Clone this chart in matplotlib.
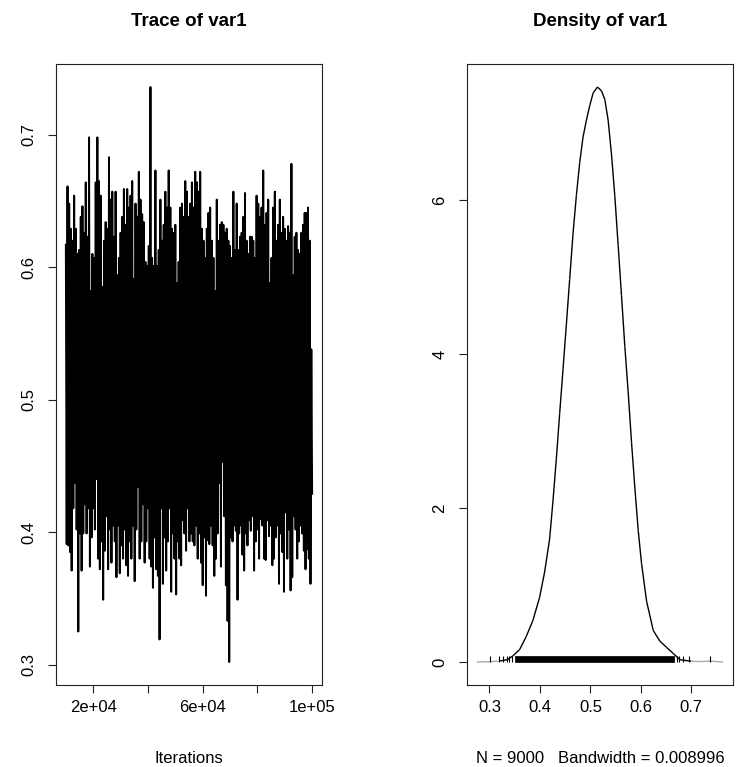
import numpy as np
import matplotlib
matplotlib.use("Agg")
import matplotlib.pyplot as plt
from matplotlib.collections import LineCollection

plt.rcParams['font.family'] = ['Liberation Sans', 'DejaVu Sans']

# trace: upper and lower reach of the chain, read column by column
trace_top = [0.617, 0.661, 0.648, 0.629, 0.620, 0.654, 0.629, 0.610, 0.613, 0.638,
             0.646, 0.626, 0.664, 0.623, 0.698, 0.582, 0.610, 0.607, 0.664, 0.698,
             0.665, 0.654, 0.585, 0.620, 0.634, 0.629, 0.683, 0.651, 0.657, 0.623,
             0.657, 0.594, 0.607, 0.626, 0.638, 0.659, 0.632, 0.659, 0.645, 0.654,
             0.665, 0.591, 0.648, 0.638, 0.672, 0.651, 0.640, 0.634, 0.604, 0.601,
             0.616, 0.736, 0.607, 0.601, 0.673, 0.601, 0.613, 0.651, 0.620, 0.632,
             0.657, 0.645, 0.673, 0.645, 0.629, 0.626, 0.632, 0.588, 0.604, 0.645,
             0.648, 0.638, 0.665, 0.657, 0.638, 0.648, 0.664, 0.645, 0.672, 0.664,
             0.657, 0.672, 0.629, 0.620, 0.607, 0.629, 0.641, 0.645, 0.620, 0.607,
             0.582, 0.651, 0.620, 0.632, 0.634, 0.632, 0.626, 0.629, 0.620, 0.616,
             0.607, 0.657, 0.613, 0.648, 0.613, 0.623, 0.626, 0.638, 0.656, 0.620,
             0.610, 0.623, 0.623, 0.620, 0.607, 0.654, 0.648, 0.638, 0.645, 0.673,
             0.632, 0.641, 0.651, 0.588, 0.607, 0.645, 0.657, 0.620, 0.632, 0.651,
             0.626, 0.638, 0.629, 0.620, 0.631, 0.626, 0.678, 0.594, 0.623, 0.626,
             0.613, 0.610, 0.626, 0.632, 0.641, 0.641, 0.645, 0.620, 0.538]
trace_bottom = [0.391, 0.390, 0.385, 0.371, 0.418, 0.437, 0.402, 0.325, 0.399, 0.371,
                0.399, 0.421, 0.399, 0.418, 0.374, 0.396, 0.418, 0.402, 0.440, 0.380,
                0.372, 0.393, 0.349, 0.386, 0.412, 0.372, 0.402, 0.377, 0.405, 0.393,
                0.366, 0.405, 0.369, 0.390, 0.380, 0.402, 0.375, 0.367, 0.393, 0.380,
                0.405, 0.363, 0.402, 0.434, 0.380, 0.393, 0.421, 0.377, 0.393, 0.418,
                0.380, 0.374, 0.358, 0.396, 0.372, 0.367, 0.319, 0.418, 0.361, 0.396,
                0.371, 0.393, 0.418, 0.355, 0.399, 0.380, 0.353, 0.393, 0.380, 0.375,
                0.409, 0.399, 0.386, 0.418, 0.393, 0.399, 0.393, 0.390, 0.405, 0.380,
                0.399, 0.377, 0.360, 0.396, 0.352, 0.394, 0.391, 0.405, 0.390, 0.367,
                0.380, 0.399, 0.437, 0.374, 0.453, 0.412, 0.360, 0.333, 0.302, 0.396,
                0.393, 0.405, 0.401, 0.349, 0.399, 0.405, 0.383, 0.371, 0.399, 0.390,
                0.409, 0.401, 0.412, 0.371, 0.393, 0.402, 0.380, 0.410, 0.405, 0.380,
                0.379, 0.409, 0.397, 0.405, 0.375, 0.380, 0.396, 0.405, 0.361, 0.399,
                0.385, 0.355, 0.415, 0.380, 0.402, 0.356, 0.366, 0.412, 0.402, 0.380,
                0.393, 0.405, 0.399, 0.386, 0.372, 0.387, 0.380, 0.361, 0.429]
first_iter = 10010
last_iter = 100000

# density estimate
dens_x = [0.275, 0.300, 0.320, 0.335, 0.3464, 0.3596, 0.3728, 0.3861, 0.3993, 0.4093,
          0.4192, 0.4258, 0.4325, 0.4391, 0.4457, 0.4523, 0.4589, 0.4656, 0.4722, 0.4788,
          0.4854, 0.4921, 0.4987, 0.5053, 0.5139, 0.5219, 0.5285, 0.5351, 0.5417, 0.5483,
          0.5550, 0.5616, 0.5682, 0.5748, 0.5815, 0.5881, 0.5947, 0.6013, 0.6113, 0.6245,
          0.6377, 0.6510, 0.6642, 0.6775, 0.700, 0.720, 0.735, 0.763]
dens_y = [0.0, 0.004, 0.012, 0.03, 0.08, 0.16, 0.33, 0.54, 0.84, 1.17,
          1.60, 2.09, 2.64, 3.23, 3.80, 4.38, 4.97, 5.57, 6.06, 6.49,
          6.82, 7.04, 7.23, 7.39, 7.47, 7.42, 7.31, 7.04, 6.60, 6.06,
          5.41, 4.76, 4.10, 3.51, 2.85, 2.26, 1.71, 1.28, 0.79, 0.41,
          0.27, 0.19, 0.11, 0.03, 0.01, 0.005, 0.012, 0.0]
rug_sparse = [0.302, 0.319, 0.326, 0.334, 0.339, 0.345, 0.671, 0.676, 0.683, 0.696, 0.736]
rug_dense = (0.351, 0.666)
n_samples = 9000
bandwidth = 0.008996

trace = np.empty(2 * len(trace_top))
trace[0::2] = trace_top
trace[1::2] = trace_bottom
iters = np.linspace(first_iter, last_iter, len(trace))

FS = 12

fig = plt.figure(figsize=(7.48, 7.67), dpi=100)
ax1 = fig.add_axes([56 / 748, 82 / 767, 266 / 748, 621 / 767])
ax2 = fig.add_axes([467 / 748, 82 / 767, 266 / 748, 621 / 767])


def r_style(ax):
    for s in ax.spines.values():
        s.set_linewidth(0.8)
        s.set_color('#222222')
    ax.tick_params(direction='out', length=6, width=0.8, labelsize=FS, colors='#222222')
    ax.tick_params(axis='x', pad=5, labelcolor='black')
    ax.tick_params(axis='y', pad=8, labelcolor='black')
    for lab in ax.get_yticklabels():
        lab.set_rotation(90)
        lab.set_va('center')


# trace panel
ax1.plot(iters, trace, color='black', lw=1.4)
pad = 0.04 * (last_iter - first_iter)
ax1.set_xlim(first_iter - pad, last_iter + pad)
lo, hi = trace.min(), trace.max()
ax1.set_ylim(lo - 0.04 * (hi - lo), hi + 0.04 * (hi - lo))
ax1.set_xticks([20000, 40000, 60000, 80000, 100000])
ax1.set_xticklabels(['2e+04', '', '6e+04', '', '1e+05'])
ax1.set_yticks([0.3, 0.4, 0.5, 0.6, 0.7])
ax1.set_yticklabels(['0.3', '0.4', '0.5', '0.6', '0.7'])
r_style(ax1)
ax1.set_xlabel('Iterations', fontsize=FS, labelpad=26)

# density panel
dx = np.array(dens_x)
dy = np.array(dens_y)
pts = np.column_stack([dx, dy])
segs = np.stack([pts[:-1], pts[1:]], axis=1)
cols = ['#aaaaaa' if max(a, b) < 0.02 else 'black' for a, b in zip(dy[:-1], dy[1:])]
ax2.add_collection(LineCollection(segs, colors=cols, linewidths=1.0))
rug_h = 0.08
ax2.vlines(rug_sparse, 0, rug_h, color='black', lw=0.8)
ax2.fill_between(list(rug_dense), 0, rug_h, color='black', lw=0.5)
xr = dx.max() - dx.min()
ax2.set_xlim(dx.min() - 0.04 * xr, dx.max() + 0.04 * xr)
ax2.set_ylim(-0.04 * dy.max(), 1.04 * dy.max())
ax2.set_xticks([0.3, 0.4, 0.5, 0.6, 0.7])
ax2.set_xticklabels(['0.3', '0.4', '0.5', '0.6', '0.7'])
ax2.set_yticks([0, 2, 4, 6])
ax2.set_yticklabels(['0', '2', '4', '6'])
r_style(ax2)
ax2.set_xlabel('N = %d   Bandwidth = %s' % (n_samples, bandwidth), fontsize=FS, labelpad=26)

fig.text((56 + 133) / 748, 1 - 22 / 767, 'Trace of var1', ha='center', va='center',
         fontsize=13.5, fontweight='bold')
fig.text((467 + 133) / 748, 1 - 22 / 767, 'Density of var1', ha='center', va='center',
         fontsize=13.5, fontweight='bold')

fig.savefig('out.png', dpi=100)
